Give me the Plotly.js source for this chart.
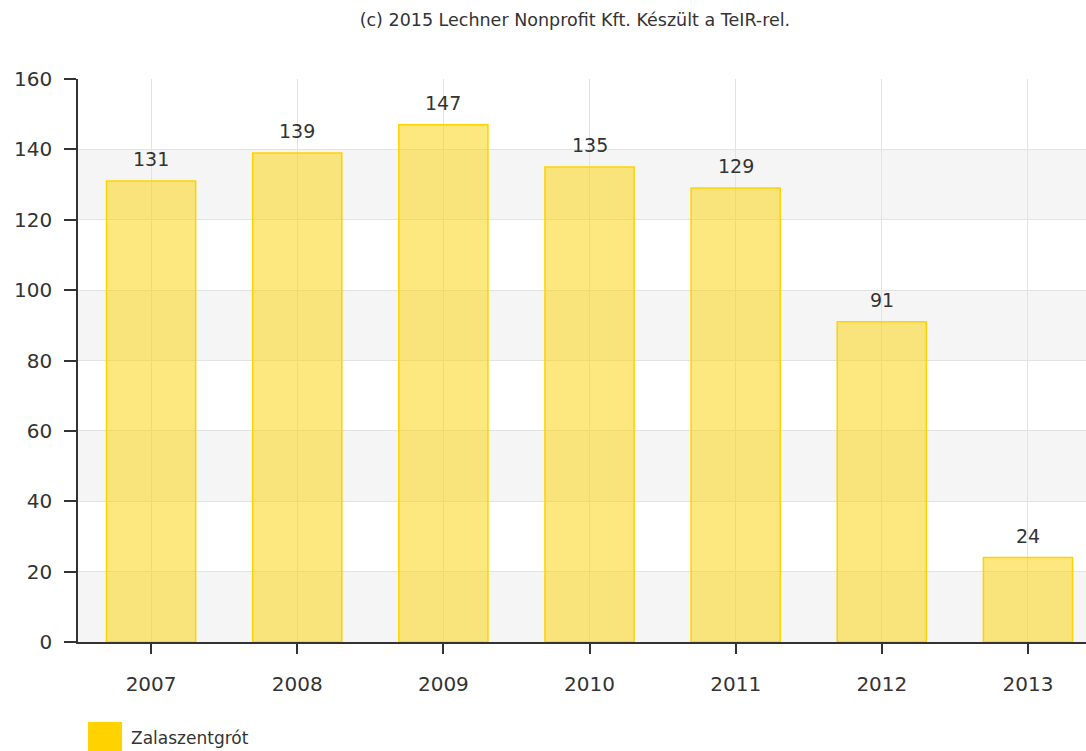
<!DOCTYPE html>
<html><head><meta charset="utf-8">
<script src="https://cdn.plot.ly/plotly-3.0.1.min.js"></script>
<style>html,body{margin:0;padding:0;overflow:hidden;background:#fff}</style>
</head><body>
<div id="chart" style="width:1086px;height:751px"></div>
<script>
const years = ['2007','2008','2009','2010','2011','2012','2013'];
const values = [131,139,147,135,129,91,24];
const seriesName = 'Zalaszentgrót';
const titleText = '(c) 2015 Lechner Nonprofit Kft. Készült a TeIR-rel.';
const yTicks = [0,20,40,60,80,100,120,140,160];

const font = 'DejaVu Sans, Verdana, sans-serif';
const bands = [];
for (let i = 0; i < yTicks.length - 1; i += 2) {
  bands.push({type:'rect', layer:'below', xref:'paper', yref:'y', x0:0, x1:1,
    y0:yTicks[i], y1:yTicks[i+1], fillcolor:'#f5f5f5', line:{width:0}});
}
const shapes = bands.concat([
  {type:'rect', xref:'paper', yref:'paper', x0:0.0099, x1:0.0437, y0:-0.142, y1:-0.196,
   fillcolor:'#ffd200', line:{width:0}}
]);

const labelAnns = years.map((yr, i) => ({
  x: i, y: values[i], xref:'x', yref:'y', text: String(values[i]), showarrow:false,
  yanchor:'bottom', yshift:9, font:{family:font, size:19, color:'#333'}
}));

Plotly.newPlot('chart', [{
  type:'bar', x:years, y:values, name:seriesName, width:0.61,
  marker:{color:'rgba(250,214,20,0.55)', line:{color:'#ffd200', width:1.5}},
  hoverinfo:'x+y', showlegend:false
}], {
  width:1086, height:751,
  margin:{l:78, r:0, t:79, b:109, pad:0},
  paper_bgcolor:'#fff', plot_bgcolor:'rgba(0,0,0,0)',
  title:{text:titleText, x:0.493, xref:'paper', xanchor:'center', y:0.973, yanchor:'middle',
         font:{family:font, size:17.5, color:'#333'}},
  xaxis:{type:'category', range:[-0.5, 6.397], showgrid:true, gridcolor:'#e3e3e3', gridwidth:1,
    showline:true, linecolor:'#333', linewidth:1.5, ticks:'outside', ticklen:10, tickwidth:1.5,
    tickcolor:'#333', ticklabelstandoff:13, tickfont:{family:font, size:20, color:'#333'},
    fixedrange:true, zeroline:false},
  yaxis:{range:[0,160], tickvals:yTicks, showgrid:true, gridcolor:'#e3e3e3', gridwidth:1,
    showline:true, linecolor:'#333', linewidth:1.5, ticks:'outside', ticklen:12, tickwidth:1.5,
    tickcolor:'#333', ticklabelstandoff:8, tickfont:{family:font, size:20, color:'#333'},
    zeroline:false, fixedrange:true},
  shapes:shapes,
  annotations:labelAnns.concat([{xref:'paper', yref:'paper', x:0.0506, y:-0.171, xanchor:'left', yanchor:'middle',
    text:seriesName, showarrow:false, font:{family:font, size:17, color:'#333'}}])
}, {displayModeBar:false});
</script>
</body></html>
